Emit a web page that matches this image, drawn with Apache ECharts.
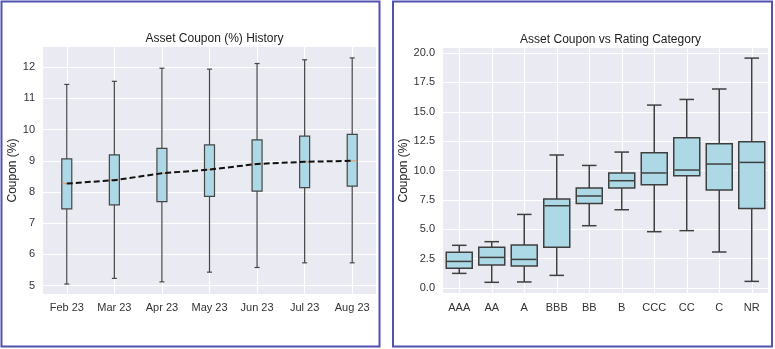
<!DOCTYPE html>
<html><head><meta charset="utf-8">
<script src="https://cdn.jsdelivr.net/npm/echarts@6/dist/echarts.min.js"></script>
<style>html,body{margin:0;padding:0;background:#fff}#c{width:775px;height:349px}</style>
</head><body><div id="c"></div>
<script>
// ---- Left chart data: Asset Coupon (%) History ----
const months = ['Feb 23','Mar 23','Apr 23','May 23','Jun 23','Jul 23','Aug 23'];
const histLow    = [5.05, 5.23, 5.12, 5.43, 5.58, 5.73, 5.73];
const histQ1     = [7.46, 7.59, 7.69, 7.86, 8.03, 8.14, 8.19];
const histMedian = [8.27, 8.38, 8.60, 8.72, 8.90, 8.97, 9.00];
const histQ3     = [9.06, 9.19, 9.40, 9.51, 9.67, 9.79, 9.85];
const histHigh   = [11.45, 11.55, 11.97, 11.94, 12.12, 12.24, 12.30];
const histTicks  = [5, 6, 7, 8, 9, 10, 11, 12];

// ---- Right chart data: Asset Coupon vs Rating Category ----
const ratings   = ['AAA','AA','A','BBB','BB','B','CCC','CC','C','NR'];
const ratLow    = [1.24, 0.48, 0.51, 1.07, 5.30, 6.66, 4.79, 4.88, 3.06, 0.56];
const ratQ1     = [1.67, 1.96, 1.87, 3.46, 7.20, 8.51, 8.79, 9.56, 8.34, 6.77];
const ratMedian = [2.26, 2.60, 2.43, 7.00, 7.83, 9.13, 9.79, 10.04, 10.55, 10.69];
const ratQ3     = [3.03, 3.46, 3.66, 7.57, 8.51, 9.79, 11.51, 12.79, 12.28, 12.45];
const ratHigh   = [3.63, 3.94, 6.26, 11.32, 10.43, 11.57, 15.57, 16.05, 16.94, 19.57];
const ratTicks  = [0, 2.5, 5, 7.5, 10, 12.5, 15, 17.5, 20];

function rows(low, q1, med, q3, high) {
  return low.map((v, i) => [i, v, q1[i], med[i], q3[i], high[i]]);
}

function makeRender(boxRatio, capRatio, edge, medColor, lw) {
  return function (params, api) {
    const i = api.value(0);
    const pLow = api.coord([i, api.value(1)]);
    const pQ1 = api.coord([i, api.value(2)]);
    const pMed = api.coord([i, api.value(3)]);
    const pQ3 = api.coord([i, api.value(4)]);
    const pHigh = api.coord([i, api.value(5)]);
    const band = api.size([1, 0])[0];
    const bw = band * boxRatio, cw = bw * capRatio;
    const x = pMed[0];
    const ls = { stroke: edge, lineWidth: lw };
    return { type: 'group', children: [
      { type: 'line', shape: { x1: x, y1: pLow[1], x2: x, y2: pQ1[1] }, style: ls },
      { type: 'line', shape: { x1: x, y1: pQ3[1], x2: x, y2: pHigh[1] }, style: ls },
      { type: 'line', shape: { x1: x - cw / 2, y1: pLow[1], x2: x + cw / 2, y2: pLow[1] }, style: ls },
      { type: 'line', shape: { x1: x - cw / 2, y1: pHigh[1], x2: x + cw / 2, y2: pHigh[1] }, style: ls },
      { type: 'rect', shape: { x: x - bw / 2, y: pQ3[1], width: bw, height: pQ1[1] - pQ3[1] },
        style: { fill: '#add8e6', stroke: edge, lineWidth: lw } },
      { type: 'line', shape: { x1: x - bw / 2 + lw / 2, y1: pMed[1], x2: x + bw / 2 - lw / 2, y2: pMed[1] },
        style: { stroke: medColor, lineWidth: lw } }
    ]};
  };
}

const font = 'Liberation Sans, Arial, sans-serif';
const labelStyle = { color: '#333', fontSize: 11, fontFamily: font };

function vGrid(cats, xi, yi) {
  return { type: 'line', xAxisIndex: xi, yAxisIndex: yi, data: [], silent: true, z: 1,
    markLine: { silent: true, symbol: 'none', z: 1, label: { show: false },
      lineStyle: { color: '#fff', width: 1, type: 'solid' },
      data: cats.map(c => ({ xAxis: c })) } };
}

const chart = echarts.init(document.getElementById('c'), null, { renderer: 'canvas' });
chart.setOption({
  animation: false,
  backgroundColor: '#fff',
  title: [
    { text: 'Asset Coupon (%) History', left: 209.5, top: 28, textAlign: 'center',
      textStyle: { fontSize: 12, fontWeight: 'normal', color: '#222', fontFamily: font } },
    { text: 'Asset Coupon vs Rating Category', left: 605.5, top: 29, textAlign: 'center',
      textStyle: { fontSize: 12, fontWeight: 'normal', color: '#222', fontFamily: font } }
  ],
  graphic: [
    { type: 'rect', shape: { x: 1.5, y: 1.5, width: 378, height: 345 },
      style: { fill: 'none', stroke: '#5252b0', lineWidth: 2 } },
    { type: 'rect', shape: { x: 393, y: 1.5, width: 379, height: 345 },
      style: { fill: 'none', stroke: '#5252b0', lineWidth: 2 } }
  ],
  grid: [
    { left: 43, top: 47, width: 333, height: 247, show: true, backgroundColor: '#eaeaf2', borderWidth: 0 },
    { left: 443, top: 48, width: 325, height: 245, show: true, backgroundColor: '#eaeaf2', borderWidth: 0 }
  ],
  xAxis: [
    { type: 'category', gridIndex: 0, data: months, boundaryGap: true,
      axisLine: { show: false }, axisTick: { show: false }, splitLine: { show: false },
      axisLabel: Object.assign({ margin: 8 }, labelStyle) },
    { type: 'category', gridIndex: 1, data: ratings, boundaryGap: true,
      axisLine: { show: false }, axisTick: { show: false }, splitLine: { show: false },
      axisLabel: Object.assign({ margin: 9 }, labelStyle) }
  ],
  yAxis: [
    { type: 'value', gridIndex: 0, min: 4.73, max: 12.65,
      name: 'Coupon (%)', nameLocation: 'middle', nameGap: 21, nameRotate: 90,
      nameTextStyle: { color: '#222', fontSize: 12, fontFamily: font },
      axisLine: { show: false },
      axisTick: { show: false, customValues: histTicks },
      axisLabel: Object.assign({ margin: 8, customValues: histTicks }, labelStyle),
      splitLine: { show: true, lineStyle: { color: '#fff', width: 1 } } },
    { type: 'value', gridIndex: 1, min: -0.43, max: 20.43,
      name: 'Coupon (%)', nameLocation: 'middle', nameGap: 30, nameRotate: 90,
      nameTextStyle: { color: '#222', fontSize: 12, fontFamily: font },
      axisLine: { show: false },
      axisTick: { show: false, customValues: ratTicks },
      axisLabel: Object.assign({ margin: 8, customValues: ratTicks, formatter: v => v.toFixed(1) }, labelStyle),
      splitLine: { show: true, lineStyle: { color: '#fff', width: 1 } } }
  ],
  series: [
    vGrid(months, 0, 0),
    vGrid(ratings, 1, 1),
    { type: 'custom', xAxisIndex: 0, yAxisIndex: 0, z: 10,
      renderItem: makeRender(0.21, 0.5, '#454545', '#e0a07a', 1.2),
      encode: { x: 0, y: [1, 2, 3, 4, 5] },
      data: rows(histLow, histQ1, histMedian, histQ3, histHigh) },
    { type: 'line', xAxisIndex: 0, yAxisIndex: 0, z: 11, data: histMedian,
      symbol: 'none', lineStyle: { color: '#111', width: 2, type: [6, 3] } },
    { type: 'custom', xAxisIndex: 1, yAxisIndex: 1, z: 10,
      renderItem: makeRender(0.8, 0.56, '#3f3f3f', '#3f3f3f', 1.5),
      encode: { x: 0, y: [1, 2, 3, 4, 5] },
      data: rows(ratLow, ratQ1, ratMedian, ratQ3, ratHigh) }
  ]
});
</script></body></html>
